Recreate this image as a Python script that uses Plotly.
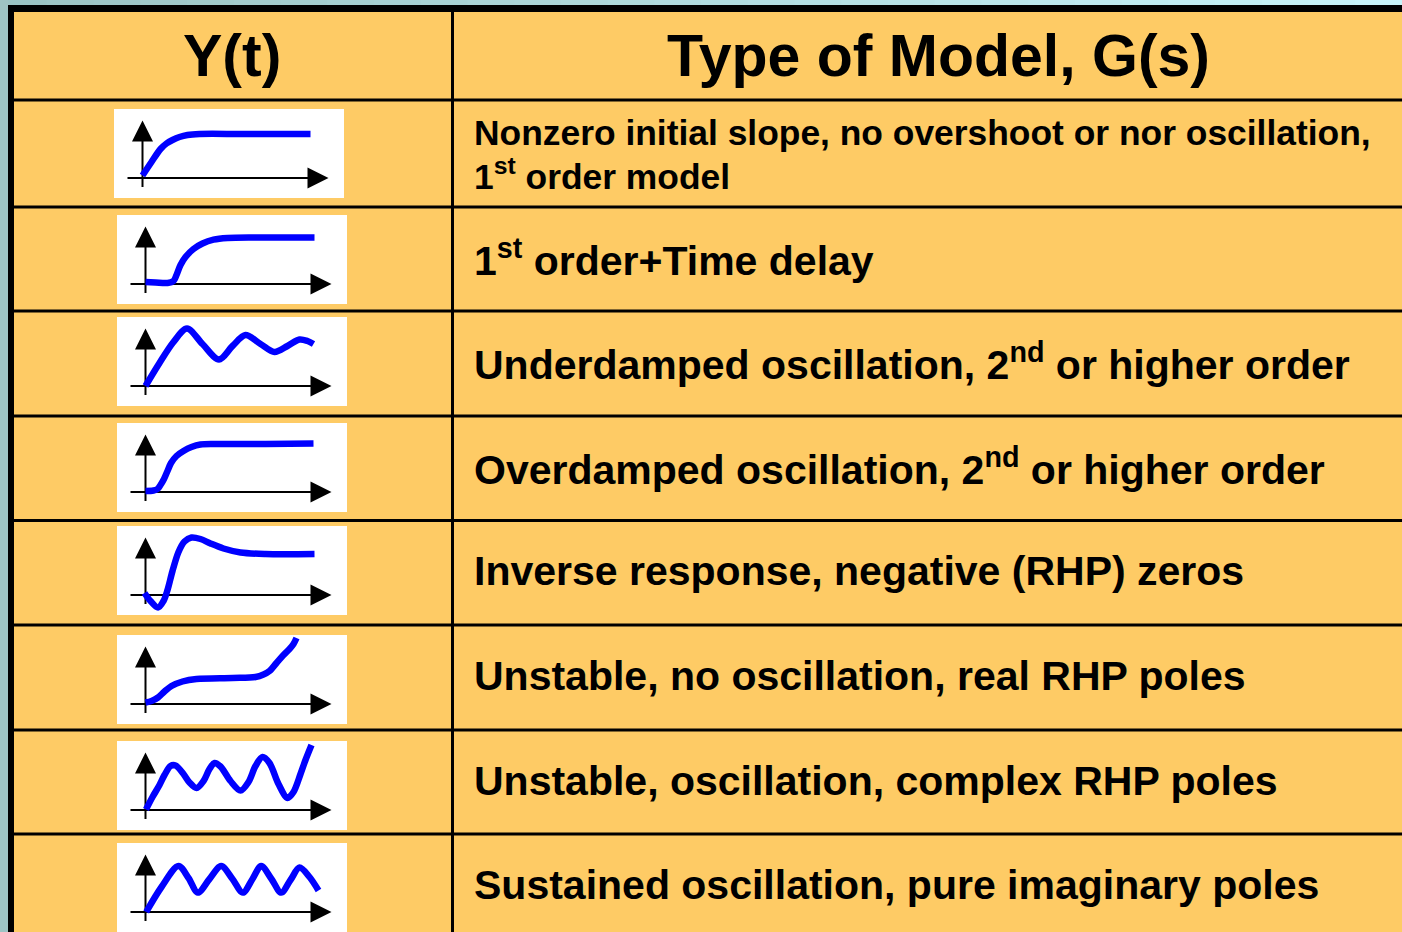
import plotly.graph_objects as go

W, H = 1402, 932

# ---------------- data ----------------
header_left = "Y(t)"
header_right = "Type of Model, G(s)"

row1_lines = ["Nonzero initial slope, no overshoot or nor oscillation,",
              "1<sup>st</sup> order model"]
model_labels = [
    "1<sup>st</sup> order+Time delay",
    "Underdamped oscillation, 2<sup>nd</sup> or higher order",
    "Overdamped oscillation, 2<sup>nd</sup> or higher order",
    "Inverse response, negative (RHP) zeros",
    "Unstable, no oscillation, real RHP poles",
    "Unstable, oscillation, complex RHP poles",
    "Sustained oscillation, pure imaginary poles",
]

# response sketches: t (right of y-axis) and y(t) (above t-axis), arbitrary units
t_first_order = [0, 9, 18, 24, 30, 37, 45, 57, 100, 168]
y_first_order = [2.5, 16, 29, 34.5, 38, 41, 43, 44, 44, 44]

t_time_delay = [0, 10, 22, 28, 31, 35, 40, 48, 57, 68, 82, 110, 169]
y_time_delay = [2, 1.5, 1, 3, 9, 19, 27, 35, 40.5, 44.3, 46, 46.5, 46.5]

t_underdamped = [0, 14, 28, 41.5, 57, 73.5, 87, 100, 115, 129, 142, 154, 162, 168]
y_underdamped = [0, 23, 44, 57.5, 42, 26.5, 40, 51, 42, 34, 40, 46.5, 45, 42]

t_overdamped = [0, 8, 12, 15, 18.5, 22, 25.5, 31, 38, 46, 55, 70, 120, 168]
y_overdamped = [1, 1.5, 3, 7, 13, 21, 29, 36, 41, 45, 47.5, 48, 48, 48.5]

t_inverse = [-1, 5, 12.5, 18, 22, 27, 33, 39, 46, 55, 65, 78, 95, 120, 169]
y_inverse = [2, -6, -12.5, -6, 5, 24, 43, 53.5, 57.5, 56, 51.5, 46.5, 42.5, 41, 41]

t_unstable_real = [0, 6, 12.5, 19, 26, 37, 51, 87, 110, 118, 124, 131, 138, 144, 148, 151]
y_unstable_real = [1.5, 3, 6.5, 12.5, 18, 22.5, 25, 26, 27, 29.5, 33, 41, 49, 55, 60, 66]

t_unstable_osc = [0.5, 7, 14, 19, 25, 30, 38, 44, 51, 58, 64, 69, 75, 85, 95, 103, 110, 117, 124, 133, 142, 148, 155, 160, 166]
y_unstable_osc = [0.5, 13, 25, 35, 44, 44.5, 36, 27.5, 22, 29, 41, 47, 43.5, 29, 19.5, 28, 44, 53, 47, 26, 12, 18, 36, 50, 65]

t_sustained = [0.7, 16, 33, 43, 52.3, 64, 75.7, 87, 97.3, 107, 115.7, 126, 135.7, 145, 154, 164, 173]
y_sustained = [0, 25, 46, 34, 19.4, 33, 46, 33, 19.4, 33, 46, 33, 19.4, 32, 44.4, 35, 21.5]

curves = [
    (t_first_order, y_first_order),
    (t_time_delay, y_time_delay),
    (t_underdamped, y_underdamped),
    (t_overdamped, y_overdamped),
    (t_inverse, y_inverse),
    (t_unstable_real, y_unstable_real),
    (t_unstable_osc, y_unstable_osc),
    (t_sustained, y_sustained),
]

# ---------------- layout constants (pixels) ----------------
FILL = "#FECB65"
row_lines = [100, 207, 311, 416, 520.5, 625, 730, 834]
row_bottom = 939
box_lefts = [114, 117, 117, 117, 117, 117, 117, 117]
box_tops = [109, 215, 317, 423, 526, 635, 741, 843]
BOX_W, BOX_H = 230, 89
ORIG_X, ORIG_Y = 28.5, 69     # axis origin inside box (from box left / top)
X_TIP, Y_TIP = 186, 57.5
TEXT_X = 472
FONT = "Liberation Sans, Arial, Helvetica, sans-serif"


def px(x):
    return x / W


def py(y):
    return 1 - y / H


fig = go.Figure()
shapes = []


def rect(x0, y0, x1, y1, color):
    shapes.append(dict(type="rect", xref="paper", yref="paper",
                       x0=px(x0), x1=px(x1), y0=py(y1), y1=py(y0),
                       fillcolor=color, line=dict(width=0), layer="above"))


# top gradient strip
n_seg = 30
c0 = (155, 196, 196)
c1 = (200, 244, 250)
for k in range(n_seg):
    f = k / (n_seg - 1)
    col = "rgb(%d,%d,%d)" % tuple(round(a + (b - a) * f) for a, b in zip(c0, c1))
    rect(k * W / n_seg, 0, (k + 1) * W / n_seg + 1, 5.5, col)
# left strip
rect(0, 0, 8, H, "rgb(158,196,196)")
# outer black borders
rect(8, 5, W, 12, "black")
rect(8, 5, 14, H, "black")
# column divider
rect(451, 5, 454, H, "black")
# row lines
for yl in row_lines:
    rect(14, yl - 1.5, W, yl + 1.5, "black")

annotations = []
annotations.append(dict(text=header_left, x=px(232), y=py(56), xref="paper", yref="paper",
                        xanchor="center", yanchor="middle", showarrow=False,
                        font=dict(family=FONT, size=59, color="black", weight="bold")))
annotations.append(dict(text=header_right, x=px(938), y=py(56), xref="paper", yref="paper",
                        xanchor="center", yanchor="middle", showarrow=False,
                        font=dict(family=FONT, size=59, color="black", weight="bold")))

# row 1 two lines
for txt, yc in zip(row1_lines, [133.5, 175]):
    annotations.append(dict(text=txt, x=px(TEXT_X), y=py(yc), xref="paper", yref="paper",
                            xanchor="left", yanchor="middle", showarrow=False,
                            font=dict(family=FONT, size=35.4, color="black", weight="bold")))
bounds = row_lines + [row_bottom]
for i, txt in enumerate(model_labels):
    yc = (bounds[i + 1] + bounds[i + 2]) / 2 - 1.5
    annotations.append(dict(text=txt, x=px(TEXT_X), y=py(yc), xref="paper", yref="paper",
                            xanchor="left", yanchor="middle", showarrow=False,
                            font=dict(family=FONT, size=41, color="black", weight="bold")))

layout_axes = {}
for i, (t, y) in enumerate(curves):
    xa = "x" if i == 0 else "x%d" % (i + 1)
    ya = "y" if i == 0 else "y%d" % (i + 1)
    xname = "xaxis" if i == 0 else "xaxis%d" % (i + 1)
    yname = "yaxis" if i == 0 else "yaxis%d" % (i + 1)
    bl, bt = box_lefts[i], box_tops[i]
    layout_axes[xname] = dict(domain=[px(bl), px(bl + BOX_W)], range=[-ORIG_X, BOX_W - ORIG_X],
                              visible=False, fixedrange=True, anchor=ya)
    layout_axes[yname] = dict(domain=[py(bt + BOX_H), py(bt)], range=[-(BOX_H - ORIG_Y), ORIG_Y],
                              visible=False, fixedrange=True, anchor=xa)
    # axes lines
    fig.add_trace(go.Scatter(x=[-15, X_TIP - 6], y=[0, 0], mode="lines", xaxis=xa, yaxis=ya,
                             line=dict(color="black", width=2), hoverinfo="skip", showlegend=False))
    fig.add_trace(go.Scatter(x=[0, 0], y=[-9, Y_TIP - 6], mode="lines", xaxis=xa, yaxis=ya,
                             line=dict(color="black", width=2), hoverinfo="skip", showlegend=False))
    fig.add_trace(go.Scatter(x=[X_TIP], y=[0], mode="markers", xaxis=xa, yaxis=ya,
                             marker=dict(symbol="arrow-right", size=21, color="black", line=dict(width=0)),
                             hoverinfo="skip", showlegend=False))
    fig.add_trace(go.Scatter(x=[0], y=[Y_TIP], mode="markers", xaxis=xa, yaxis=ya,
                             marker=dict(symbol="arrow-up", size=21, color="black", line=dict(width=0)),
                             hoverinfo="skip", showlegend=False))
    # response curve
    fig.add_trace(go.Scatter(x=t, y=y, mode="lines", xaxis=xa, yaxis=ya,
                             line=dict(color="#0000FF", width=6.5, shape="spline", smoothing=0.9),
                             hoverinfo="skip", showlegend=False))

fig.update_layout(
    width=W, height=H, margin=dict(l=0, r=0, t=0, b=0),
    paper_bgcolor=FILL, plot_bgcolor="white",
    shapes=shapes, annotations=annotations, showlegend=False,
    **layout_axes,
)

fig.write_html("out.html", config={"displayModeBar": False},
               post_script="document.body.style.margin='0';document.body.style.overflow='hidden';")
